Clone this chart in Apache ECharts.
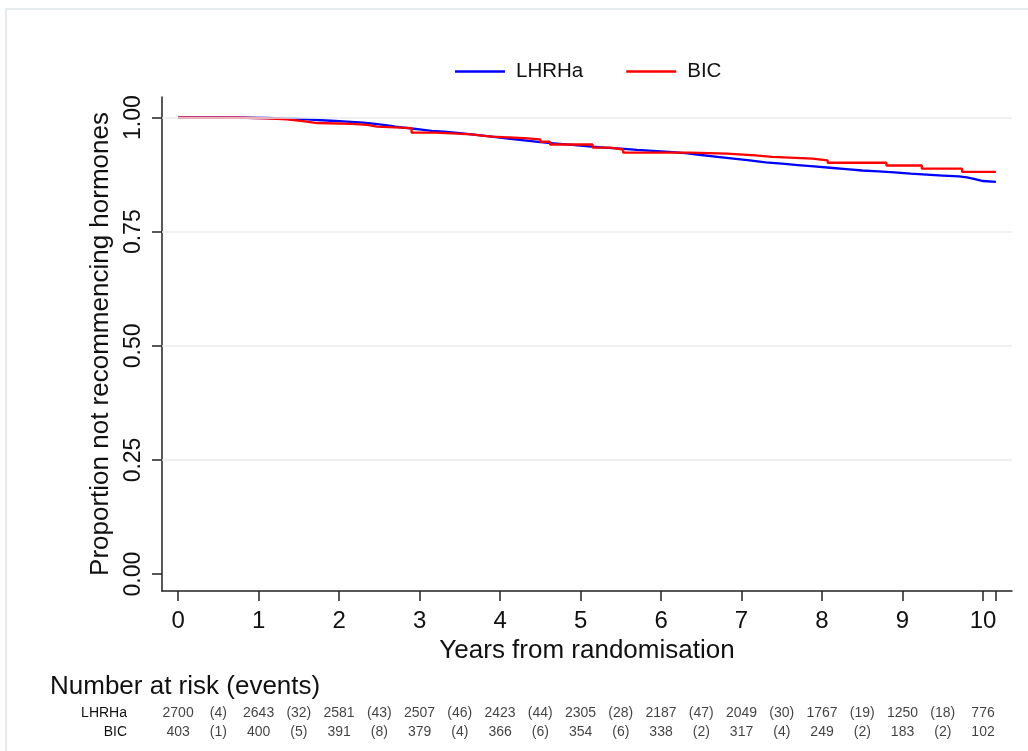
<!DOCTYPE html>
<html>
<head>
<meta charset="utf-8">
<script src="https://cdn.jsdelivr.net/npm/echarts@6/dist/echarts.min.js"></script>
<style>html,body{margin:0;padding:0;background:#fff}#c{width:1028px;height:751px}</style>
</head>
<body>
<div id="c"></div>
<script>
// ---- Data ----
const lhrhaTimes = [0, 0.4, 0.8, 1.1, 1.3, 1.5, 1.7, 1.9, 2.1, 2.3, 2.45, 2.6, 2.7, 2.8, 2.9, 3.0, 3.15, 3.3, 3.5, 3.7, 3.9, 4.1, 4.3, 4.5, 4.7, 4.9, 5.1, 5.3, 5.5, 5.7, 5.9, 6.1, 6.3, 6.5, 6.7, 6.9, 7.1, 7.3, 7.5, 7.7, 7.9, 8.1, 8.3, 8.5, 8.7, 8.9, 9.1, 9.3, 9.5, 9.7, 9.8, 9.9, 10.0, 10.16];
const lhrhaSurv  = [1.0, 0.9995, 0.999, 0.998, 0.997, 0.995, 0.993, 0.991, 0.989, 0.986, 0.983, 0.980, 0.978, 0.976, 0.974, 0.971, 0.969, 0.966, 0.962, 0.958, 0.954, 0.950, 0.946, 0.943, 0.940, 0.937, 0.934, 0.932, 0.929, 0.927, 0.925, 0.922, 0.918, 0.914, 0.910, 0.906, 0.902, 0.899, 0.896, 0.893, 0.890, 0.887, 0.884, 0.882, 0.880, 0.877, 0.875, 0.873, 0.871, 0.869, 0.865, 0.861, 0.859, 0.859];

const bicTimes = [0, 0.75, 1.1, 1.35, 1.55, 1.73, 2.16, 2.35, 2.47, 2.9, 3.2, 3.65, 3.8, 3.9, 4.3, 4.5, 4.62, 5.15, 5.37, 5.53, 6.36, 6.82, 7.17, 7.38, 7.88, 8.07, 8.8, 9.24, 9.74, 10.16];
const bicSurv  = [1.0, 0.998, 0.996, 0.992, 0.988, 0.986, 0.984, 0.980, 0.977, 0.967, 0.963, 0.960, 0.958, 0.955, 0.952, 0.947, 0.941, 0.934, 0.930, 0.923, 0.921, 0.917, 0.914, 0.910, 0.906, 0.901, 0.895, 0.888, 0.881, 0.881];

const xTickValues = [0, 1, 2, 3, 4, 5, 6, 7, 8, 9, 10, 10.16];
const xLabelValues = [0, 1, 2, 3, 4, 5, 6, 7, 8, 9, 10];
const yTickValues = [0, 0.25, 0.5, 0.75, 1.0];

const riskTimes   = [0, 1, 2, 3, 4, 5, 6, 7, 8, 9, 10];
const lhrhaAtRisk = [2700, 2643, 2581, 2507, 2423, 2305, 2187, 2049, 1767, 1250, 776];
const bicAtRisk   = [403, 400, 391, 379, 366, 354, 338, 317, 249, 183, 102];
const eventTimes  = [0.5, 1.5, 2.5, 3.5, 4.5, 5.5, 6.5, 7.5, 8.5, 9.5];
const lhrhaEvents = [4, 32, 43, 46, 44, 28, 47, 30, 19, 18];
const bicEvents   = [1, 5, 8, 4, 6, 6, 2, 4, 2, 2];

// ---- Build ----
const zip = (a, b) => a.map((v, i) => [v, b[i]]);
const FONT = 'Liberation Sans, Arial, sans-serif';

const riskData = [];
riskTimes.forEach((t, i) => {
  riskData.push({ value: [t, 'LHRHa'], txt: String(lhrhaAtRisk[i]) });
  riskData.push({ value: [t, 'BIC'], txt: String(bicAtRisk[i]) });
});
eventTimes.forEach((t, i) => {
  riskData.push({ value: [t, 'LHRHa'], txt: '(' + lhrhaEvents[i] + ')' });
  riskData.push({ value: [t, 'BIC'], txt: '(' + bicEvents[i] + ')' });
});

const chart = echarts.init(document.getElementById('c'), null, { renderer: 'canvas' });
chart.setOption({
  backgroundColor: '#fff',
  animation: false,
  textStyle: { fontFamily: FONT },
  graphic: [{
    type: 'rect', silent: true, z: -10,
    shape: { x: 6, y: 9, width: 1040, height: 760 },
    style: { fill: 'none', stroke: '#e5ebec', lineWidth: 2 }
  }],
  title: {
    text: 'Number at risk (events)',
    left: 45, top: 669,
    textStyle: { fontFamily: FONT, fontSize: 26, fontWeight: 'normal', color: '#111' }
  },
  legend: {
    left: 450, top: 56, icon: 'rect',
    itemWidth: 50, itemHeight: 2.5, itemGap: 43,
    textStyle: { fontFamily: FONT, fontSize: 20.5, color: '#111', padding: [0, 0, 0, 6] },
    data: ['LHRHa', 'BIC']
  },
  grid: [
    { left: 162, right: 16, top: 97, bottom: 160 },
    { left: 162, right: 16, top: 703.5, height: 38 }
  ],
  xAxis: [{
    gridIndex: 0, type: 'value', min: -0.2, max: 10.36,
    name: 'Years from randomisation', nameLocation: 'middle', nameGap: 42,
    nameTextStyle: { fontFamily: FONT, fontSize: 26, color: '#111' },
    axisLine: { show: true, onZero: false, lineStyle: { color: '#222', width: 1.5 } },
    axisTick: { show: true, length: 10, customValues: xTickValues, lineStyle: { color: '#222', width: 1.5 } },
    axisLabel: { customValues: xLabelValues, margin: 18, fontSize: 24, color: '#111', fontFamily: FONT },
    splitLine: { show: false }
  }, {
    gridIndex: 1, type: 'value', min: -0.2, max: 10.36, show: false
  }],
  yAxis: [{
    gridIndex: 0, type: 'value', min: -0.037, max: 1.045,
    name: 'Proportion not recommencing hormones', nameLocation: 'middle', nameGap: 22,
    nameTextStyle: { fontFamily: FONT, fontSize: 26, color: '#111' },
    axisLine: { show: true, onZero: false, lineStyle: { color: '#222', width: 1.5 } },
    axisTick: { show: true, length: 10, customValues: yTickValues, lineStyle: { color: '#222', width: 1.5 } },
    axisLabel: {
      customValues: yTickValues, rotate: 90, margin: 17, fontSize: 23, color: '#111', fontFamily: FONT,
      formatter: v => v.toFixed(2)
    },
    splitLine: { show: false }
  }, {
    gridIndex: 1, type: 'category', data: ['BIC', 'LHRHa'],
    axisLine: { show: false }, axisTick: { show: false },
    axisLabel: { fontSize: 14, color: '#111', margin: 35, fontFamily: FONT }
  }],
  series: [
    {
      name: 'grid', type: 'line', xAxisIndex: 0, yAxisIndex: 0, data: [], silent: true,
      markLine: {
        silent: true, symbol: 'none', label: { show: false },
        lineStyle: { color: '#e8ebec', width: 1.5, type: 'solid' },
        data: yTickValues.filter(v => v > 0).map(v => ({ yAxis: v }))
      }
    },
    {
      name: 'LHRHa', type: 'line', step: 'end', xAxisIndex: 0, yAxisIndex: 0,
      data: zip(lhrhaTimes, lhrhaSurv), symbol: 'none', color: '#0000ff',
      lineStyle: { color: '#0000ff', width: 2.3 }
    },
    {
      name: 'BIC', type: 'line', step: 'end', xAxisIndex: 0, yAxisIndex: 0,
      data: zip(bicTimes, bicSurv), symbol: 'none', color: '#ff0000',
      lineStyle: { color: '#ff0000', width: 2.3 }
    },
    {
      name: 'risk', type: 'scatter', xAxisIndex: 1, yAxisIndex: 1,
      data: riskData, symbolSize: 1, itemStyle: { color: 'rgba(0,0,0,0)' }, silent: true,
      label: {
        show: true, position: 'inside', fontSize: 14, color: '#111', fontFamily: FONT,
        formatter: p => p.data.txt
      }
    }
  ]
});
</script>
</body>
</html>
